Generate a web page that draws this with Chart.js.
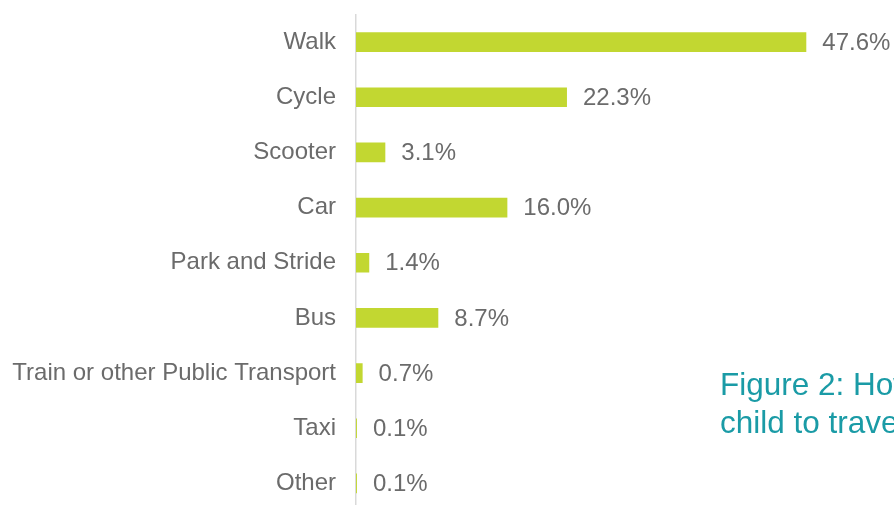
<!DOCTYPE html>
<html>
<head>
<meta charset="utf-8">
<script src="https://cdn.jsdelivr.net/npm/chart.js@4/dist/chart.umd.min.js"></script>
<style>
  html, body { margin: 0; padding: 0; background: #ffffff; overflow: hidden; }
  #wrap { position: relative; width: 894px; height: 511px; }
  #caption {
    position: absolute; left: 720px; top: 364.5px;
    font-family: "Liberation Sans", Arial, sans-serif; font-size: 31.5px; line-height: 38px;
    color: #1a9ba6; white-space: nowrap;
  }
</style>
</head>
<body>
<div id="wrap">
  <canvas id="c" width="894" height="511"></canvas>
  <div id="caption">Figure 2: How<br>child to travel</div>
</div>
<script>
const categories = ["Walk", "Cycle", "Scooter", "Car", "Park and Stride", "Bus", "Train or other Public Transport", "Taxi", "Other"];
const shares = [47.6, 22.3, 3.1, 16.0, 1.4, 8.7, 0.7, 0.1, 0.1];
const xMin = 0;
const xMax = 50;

const TEXT_GREY = '#6b6b6b';
const FONT = '"Liberation Sans", Arial, sans-serif';

const valueLabels = {
  id: 'valueLabels',
  afterDatasetsDraw(chart) {
    const ctx = chart.ctx;
    const meta = chart.getDatasetMeta(0);
    ctx.save();
    ctx.font = '24px ' + FONT;
    ctx.fillStyle = TEXT_GREY;
    ctx.textAlign = 'left';
    ctx.textBaseline = 'middle';
    meta.data.forEach((bar, i) => {
      ctx.fillText(shares[i].toFixed(1) + '%', bar.x + 16, bar.y + 1);
    });
    ctx.restore();
  }
};

new Chart(document.getElementById('c'), {
  type: 'bar',
  data: {
    labels: categories,
    datasets: [{
      data: shares,
      backgroundColor: '#c2d731',
      borderWidth: 0,
      categoryPercentage: 1.0,
      barPercentage: 0.355
    }]
  },
  options: {
    indexAxis: 'y',
    responsive: false,
    animation: false,
    devicePixelRatio: 1,
    layout: { padding: { left: 0, right: 65, top: 14.5, bottom: 0 } },
    plugins: { legend: { display: false }, tooltip: { enabled: false } },
    scales: {
      x: { display: false, min: xMin, max: xMax },
      y: {
        grid: { display: false, drawTicks: false },
        border: { display: true, color: '#d9d9d9', width: 1.5 },
        ticks: { color: TEXT_GREY, font: { family: FONT, size: 24 }, padding: 20, autoSkip: false },
        afterFit(scale) {
          scale.width = 356;
          scale.paddingTop = 0;
          scale.paddingBottom = 0;
        }
      }
    }
  },
  plugins: [valueLabels]
});
</script>
</body>
</html>
